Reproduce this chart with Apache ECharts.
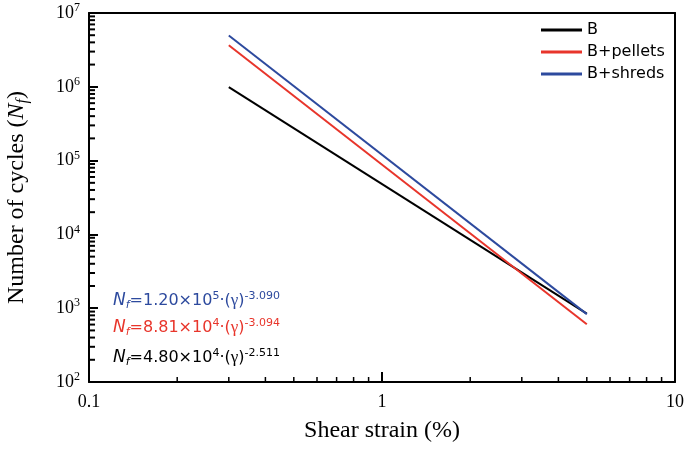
<!DOCTYPE html>
<html>
<head>
<meta charset="utf-8">
<script src="https://cdn.jsdelivr.net/npm/echarts@6/dist/echarts.min.js"></script>
<style>html,body{margin:0;padding:0;background:#fff}#c{width:686px;height:450px}</style>
</head>
<body>
<div id="c"></div>
<script>
// Data
const strainEnds = [0.3, 5];                 // shear strain (%) at line ends
const cyclesB = [9.87e5, 844];
const cyclesPellets = [3.66e6, 606];
const cyclesShreds = [4.95e6, 831];
const seriesNames = ['B', 'B+pellets', 'B+shreds'];
const seriesColors = ['#000000', '#e8352b', '#2d4a9e'];
const xMinorTicks = [0.2,0.3,0.4,0.5,0.6,0.7,0.8,0.9,2,3,4,5,6,7,8,9];
const yMantissas = [2,3,4,5,6,7,8,9];
const yDecades = [100,1000,10000,100000,1000000];

const yMinorTicks = [];
yDecades.forEach(d => yMantissas.forEach(m => yMinorTicks.push(m * d)));
const xTickData = xMinorTicks.map(v => [v, 1000]);
const yTickData = yMinorTicks.map(v => [0.2, v]);

const serif = '"Liberation Serif", "Times New Roman", serif';
const sans = '"DejaVu Sans", "Liberation Sans", Arial, sans-serif';

function mkLine(name, ys, color) {
  return {
    name: name, type: 'line', data: strainEnds.map((x, i) => [x, ys[i]]),
    showSymbol: false, symbol: 'none', lineStyle: { color: color, width: 2 }, itemStyle: { color: color },
    animation: false, z: 3
  };
}

function eqText(coef, exp, expo) {
  return '{i|N}{sub|f}{t|=' + coef + '×10}{sup|' + exp + '}{t|·(}{g|γ}{t|)}{sup|' + expo + '}';
}
function eqRich(color) {
  return {
    i: { fontFamily: sans, fontStyle: 'italic', fontSize: 17, fill: color, lineHeight: 20 },
    t: { fontFamily: sans, fontSize: 16, fill: color, lineHeight: 20 },
    g: { fontFamily: serif, fontSize: 17, fill: color, lineHeight: 20 },
    sub: { fontFamily: sans, fontStyle: 'italic', fontSize: 11, fill: color, lineHeight: 11, verticalAlign: 'bottom' },
    sup: { fontFamily: sans, fontSize: 11, fill: color, lineHeight: 11, verticalAlign: 'top' }
  };
}

function tickSeries(data, isX) {
  return {
    type: 'custom', silent: true, clip: false, z: 4, animation: false,
    data: data,
    renderItem: function (params, api) {
      const cs = params.coordSys;
      const p = api.coord([api.value(0), api.value(1)]);
      if (isX) {
        const y0 = cs.y + cs.height;
        return { type: 'rect', shape: { x: p[0] - 0.75, y: y0 - 5, width: 1.5, height: 5 }, style: { fill: '#000' } };
      }
      return { type: 'rect', shape: { x: cs.x, y: p[1] - 1, width: 6, height: 2 }, style: { fill: '#000' } };
    }
  };
}

const chart = echarts.init(document.getElementById('c'), null, { renderer: 'canvas' });
chart.setOption({
  animation: false,
  backgroundColor: '#fff',
  grid: { left: 89, right: 11, top: 13, bottom: 68, show: false, containLabel: false, outerBoundsMode: 'none' },
  legend: {
    data: seriesNames, orient: 'vertical', left: 541, top: 22, padding: 0, itemWidth: 41, itemHeight: 3, itemGap: 6,
    icon: 'rect', align: 'left',
    textStyle: { fontFamily: sans, fontSize: 16, color: '#000', lineHeight: 16 }
  },
  xAxis: [{
    type: 'log', logBase: 10, min: 0.1, max: 10,
    name: 'Shear strain (%)', nameLocation: 'middle', nameGap: 37,
    nameTextStyle: { fontFamily: serif, fontSize: 24, color: '#000' },
    axisLine: { lineStyle: { color: '#000', width: 2 } },
    axisTick: { inside: true, length: 10, lineStyle: { color: '#000', width: 2 } },
    axisLabel: { fontFamily: serif, fontSize: 18, color: '#000', margin: 11,
      formatter: v => (v < 0.5 ? '0.1' : String(Math.round(v))) },
    splitLine: { show: false }
  }, {
    type: 'log', logBase: 10, min: 0.1, max: 10, position: 'top',
    axisLine: { show: true, onZero: false, lineStyle: { color: '#000', width: 2 } },
    axisTick: { show: false }, axisLabel: { show: false }, splitLine: { show: false }
  }],
  yAxis: [{
    type: 'log', logBase: 10, min: 100, max: 1e7,
    name: '{a|Number of cycles (}{i|N}{sub|f}{a|)}', nameLocation: 'middle', nameGap: 58,
    nameTextStyle: {
      rich: {
        a: { fontFamily: serif, fontSize: 24, color: '#000', lineHeight: 28 },
        i: { fontFamily: serif, fontStyle: 'italic', fontSize: 24, color: '#000', lineHeight: 28 },
        sub: { fontFamily: serif, fontStyle: 'italic', fontSize: 16, color: '#000', lineHeight: 16, verticalAlign: 'bottom' }
      }
    },
    axisLine: { show: true, onZero: false, lineStyle: { color: '#000', width: 2 } },
    axisTick: { show: true, inside: true, length: 9, lineStyle: { color: '#000', width: 2 } },
    axisLabel: {
      margin: 9,
      formatter: v => '{b|10}{s|' + Math.round(Math.log10(v)) + '}',
      rich: {
        b: { fontFamily: serif, fontSize: 18, color: '#000', lineHeight: 22 },
        s: { fontFamily: serif, fontSize: 12, color: '#000', lineHeight: 12, verticalAlign: 'top' }
      }
    },
    splitLine: { show: false }
  }, {
    type: 'log', logBase: 10, min: 100, max: 1e7, position: 'right',
    axisLine: { show: true, onZero: false, lineStyle: { color: '#000', width: 2 } },
    axisTick: { show: false }, axisLabel: { show: false }, splitLine: { show: false }
  }],
  series: [
    mkLine(seriesNames[0], cyclesB, seriesColors[0]),
    mkLine(seriesNames[1], cyclesPellets, seriesColors[1]),
    mkLine(seriesNames[2], cyclesShreds, seriesColors[2]),
    tickSeries(xTickData, true),
    tickSeries(yTickData, false)
  ],
  graphic: [
    { type: 'text', left: 113, top: 291, z: 10, style: { text: eqText('1.20', 5, '-3.090'), rich: eqRich(seriesColors[2]) } },
    { type: 'text', left: 113, top: 318, z: 10, style: { text: eqText('8.81', 4, '-3.094'), rich: eqRich(seriesColors[1]) } },
    { type: 'text', left: 113, top: 348, z: 10, style: { text: eqText('4.80', 4, '-2.511'), rich: eqRich(seriesColors[0]) } }
  ]
});
</script>
</body>
</html>
